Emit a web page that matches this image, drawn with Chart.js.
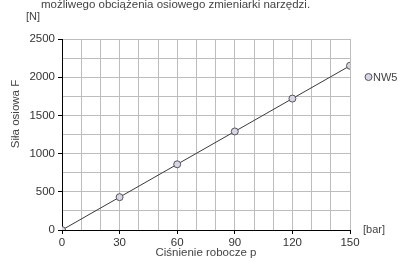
<!DOCTYPE html>
<html lang="pl">
<head>
<meta charset="UTF-8">
<title>Siła osiowa F</title>
<script src="https://cdn.jsdelivr.net/npm/chart.js"></script>
<style>
    html, body { margin: 0; padding: 0; background: #fff; }
    #wrap { width: 400px; height: 262px; position: relative; }
</style>
</head>
<body>
<div id="wrap"><canvas id="chart"></canvas></div>
<script>
// data
const pressure = [0, 30, 60, 90, 120, 150];       // bar
const forceNW5 = [0, 430, 860, 1290, 1720, 2150]; // N
const seriesName = 'NW5';
const xLabelTicks = [0, 30, 60, 90, 120, 150];
const yLabelTicks = [0, 500, 1000, 1500, 2000, 2500];

const FONT = '"Liberation Sans", Arial, sans-serif';
const TEXT = '#444';

// extra texts + legend drawn straight on the canvas
const extras = {
    id: 'extras',
    afterDraw(chart) {
        const c = chart.ctx;
        c.save();
        c.fillStyle = TEXT;
        c.font = '11.5px ' + FONT;
        c.textBaseline = 'alphabetic';
        c.textAlign = 'left';
        c.fillText('możliwego obciążenia osiowego zmieniarki narzędzi.', 41, 8);
        c.font = '11px ' + FONT;
        c.fillText('[N]', 26, 20);
        c.textBaseline = 'middle';
        c.fillText('[bar]', 363, 230);
        c.textAlign = 'center';
        c.font = '11.5px ' + FONT;
        c.fillText('Ciśnienie robocze p', 206, 253);

        c.translate(16, 114);
        c.rotate(-Math.PI / 2);
        c.fillText('Siła osiowa F', 0, 0);
        c.setTransform(1, 0, 0, 1, 0, 0);

        // legend
        const ds = chart.data.datasets[0];
        c.beginPath();
        c.arc(368.5, 77, 3.5, 0, Math.PI * 2);
        c.fillStyle = ds.pointBackgroundColor;
        c.fill();
        c.lineWidth = 1;
        c.strokeStyle = ds.pointBorderColor;
        c.stroke();
        c.fillStyle = TEXT;
        c.textAlign = 'left';
        c.font = '11px ' + FONT;
        c.fillText(ds.label, 373, 78);
        c.restore();
    }
};

new Chart(document.getElementById('chart'), {
    type: 'line',
    data: {
        labels: pressure,
        datasets: [{
            label: seriesName,
            data: pressure.map((p, i) => ({ x: p, y: forceNW5[i] })),
            borderColor: '#3a3a3a',
            borderWidth: 1,
            pointBackgroundColor: '#d6d6e6',
            pointBorderColor: '#555',
            pointBorderWidth: 1,
            pointRadius: 3.5,
            tension: 0
        }]
    },
    options: {
        responsive: true,
        maintainAspectRatio: false,
        animation: false,
        layout: { padding: { left: 0, right: 50, top: 39, bottom: 0 } },
        plugins: { legend: { display: false }, tooltip: { enabled: false } },
        scales: {
            x: {
                type: 'linear',
                min: 0, max: 150,
                afterFit: s => { s.height = 32; },
                afterBuildTicks: s => { s.ticks = Array.from({ length: 16 }, (_, i) => ({ value: i * 10 })); },
                ticks: {
                    color: '#333',
                    font: { family: FONT, size: 11.5 },
                    padding: 2,
                    maxRotation: 0,
                    autoSkip: false,
                    callback: v => xLabelTicks.includes(v) ? String(v) : ''
                },
                grid: {
                    color: '#bdbdbd',
                    tickLength: 4,
                    tickColor: ctx => xLabelTicks.includes(ctx.tick && ctx.tick.value) ? '#000' : 'rgba(0,0,0,0)'
                },
                border: { color: '#000', width: 1 }
            },
            y: {
                min: 0, max: 2500,
                afterFit: s => { s.width = 62; },
                afterBuildTicks: s => { s.ticks = Array.from({ length: 11 }, (_, i) => ({ value: i * 250 })); },
                ticks: {
                    color: '#333',
                    font: { family: FONT, size: 11.5 },
                    padding: 3,
                    autoSkip: false,
                    callback: v => yLabelTicks.includes(v) ? String(v) : ''
                },
                grid: {
                    color: '#bdbdbd',
                    tickLength: 4,
                    tickColor: ctx => yLabelTicks.includes(ctx.tick && ctx.tick.value) ? '#000' : 'rgba(0,0,0,0)'
                },
                border: { color: '#000', width: 1 }
            }
        }
    },
    plugins: [extras]
});
</script>
</body>
</html>
